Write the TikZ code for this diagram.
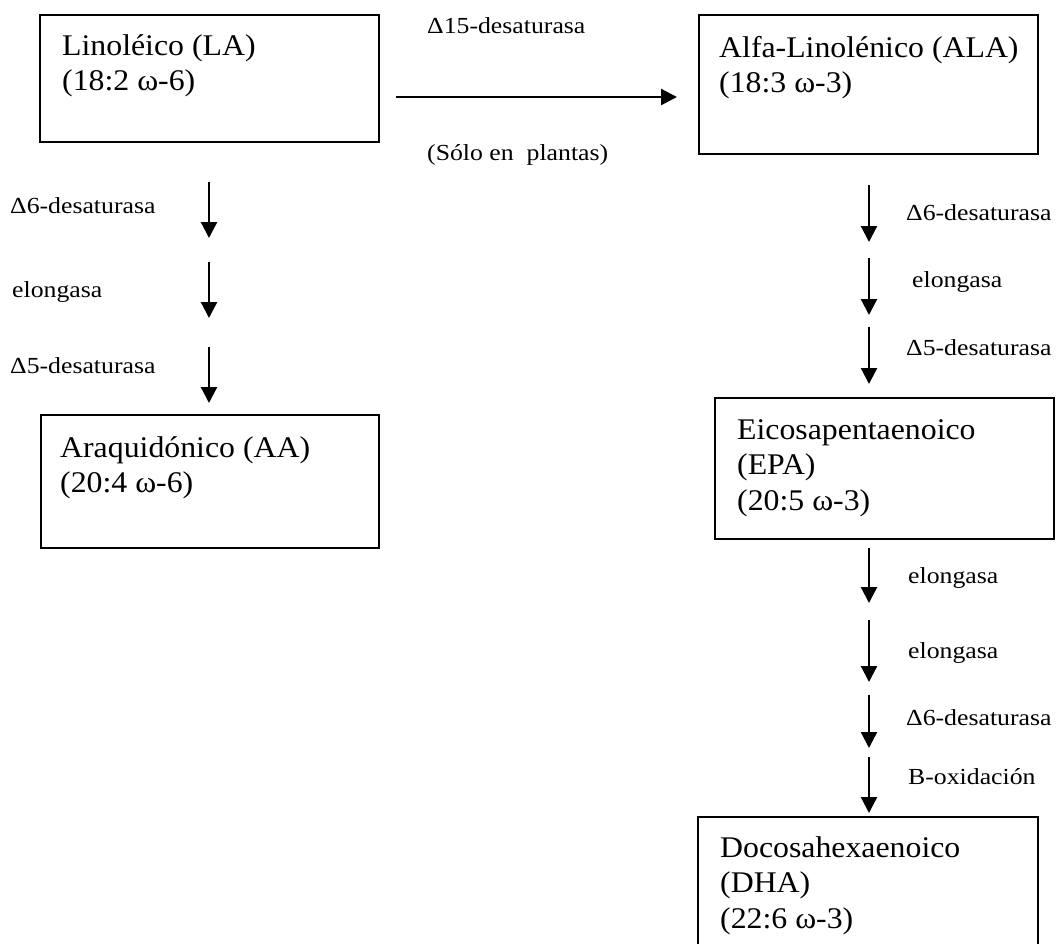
\documentclass[tikz,border=0pt]{standalone}
\usepackage{fontspec}
\setmainfont{Liberation Serif}
\newfontfamily\boxfont[FakeStretch=1.06]{Liberation Serif}
\newfontfamily\labfont[FakeStretch=1.12]{Liberation Serif}
\usetikzlibrary{arrows.meta}
\tikzset{
  boxnode/.style={draw, line width=2pt, rectangle, anchor=north west, inner sep=0pt, outer sep=0pt},
  boxtext/.style={anchor=north west, inner sep=0pt, align=left, font=\boxfont\fontsize{30}{35.5}\selectfont},
  enzyme/.style={anchor=base west, inner sep=0pt, font=\labfont\fontsize{23}{27}\selectfont},
  conv/.style={line width=2.3pt, -{Triangle[length=16pt,width=16pt]}}
}
\begin{document}
\begin{tikzpicture}[x=1pt,y=-1pt]
\useasboundingbox (0,0) rectangle (1058,943);
\clip (0,0) rectangle (1058,943);
% boxes
\node[boxnode, minimum width=339pt, minimum height=127pt] (la) at (40,15) {};
\node[boxnode, minimum width=339pt, minimum height=139pt] (ala) at (699,15) {};
\node[boxnode, minimum width=338pt, minimum height=133pt] (aa) at (41,415) {};
\node[boxnode, minimum width=339pt, minimum height=141pt] (epa) at (715,398) {};
\node[boxnode, minimum width=340pt, minimum height=160pt] (dha) at (698,817) {};
% box texts
\node[boxtext] (laT) at (62,34) {Linoléico (LA)\\(18:2 ω-6)};
\node[boxtext] (alaT) at (719,36) {Alfa-Linolénico (ALA)\\(18:3 ω-3)};
\node[boxtext] (aaT) at (60,436) {Araquidónico (AA)\\(20:4 ω-6)};
\node[boxtext] (epaT) at (737,419) {Eicosapentaenoico\\(EPA)\\(20:5 ω-3)};
\node[boxtext] (dhaT) at (720,836) {Docosahexaenoico\\(DHA)\\(22:6 ω-3)};
% arrow end points
\coordinate (h0) at (396,97);   \coordinate (h1) at (677,97);
\coordinate (l1a) at (209,182); \coordinate (l1b) at (209,238);
\coordinate (l2a) at (209,262); \coordinate (l2b) at (209,318);
\coordinate (l3a) at (209,347); \coordinate (l3b) at (209,403);
\coordinate (r1a) at (869,185); \coordinate (r1b) at (869,242);
\coordinate (r2a) at (869,258); \coordinate (r2b) at (869,315);
\coordinate (r3a) at (869,327); \coordinate (r3b) at (869,384);
\coordinate (r4a) at (869,548); \coordinate (r4b) at (869,603);
\coordinate (r5a) at (869,620); \coordinate (r5b) at (869,682);
\coordinate (r6a) at (869,695); \coordinate (r6b) at (869,748);
\coordinate (r7a) at (869,757); \coordinate (r7b) at (869,813);
\draw[conv] (h0) -- (h1);
\draw[conv] (l1a) -- (l1b);
\draw[conv] (l2a) -- (l2b);
\draw[conv] (l3a) -- (l3b);
\draw[conv] (r1a) -- (r1b);
\draw[conv] (r2a) -- (r2b);
\draw[conv] (r3a) -- (r3b);
\draw[conv] (r4a) -- (r4b);
\draw[conv] (r5a) -- (r5b);
\draw[conv] (r6a) -- (r6b);
\draw[conv] (r7a) -- (r7b);
% enzyme labels
\node[enzyme] (e15) at (427,33) {Δ15-desaturasa};
\node[enzyme] (plantas) at (427,160) {(Sólo en\ \ plantas)};
\node[enzyme] (lD6) at (10,213) {Δ6-desaturasa};
\node[enzyme] (lEl) at (12,297) {elongasa};
\node[enzyme] (lD5) at (10,373) {Δ5-desaturasa};
\node[enzyme] (rD6) at (906,220) {Δ6-desaturasa};
\node[enzyme] (rEl) at (912,287) {elongasa};
\node[enzyme] (rD5) at (906,355) {Δ5-desaturasa};
\node[enzyme] (rEl2) at (908,583) {elongasa};
\node[enzyme] (rEl3) at (908,658) {elongasa};
\node[enzyme] (rD6b) at (906,725) {Δ6-desaturasa};
\node[enzyme] (rBox) at (908,784) {B-oxidación};
\end{tikzpicture}
\end{document}
